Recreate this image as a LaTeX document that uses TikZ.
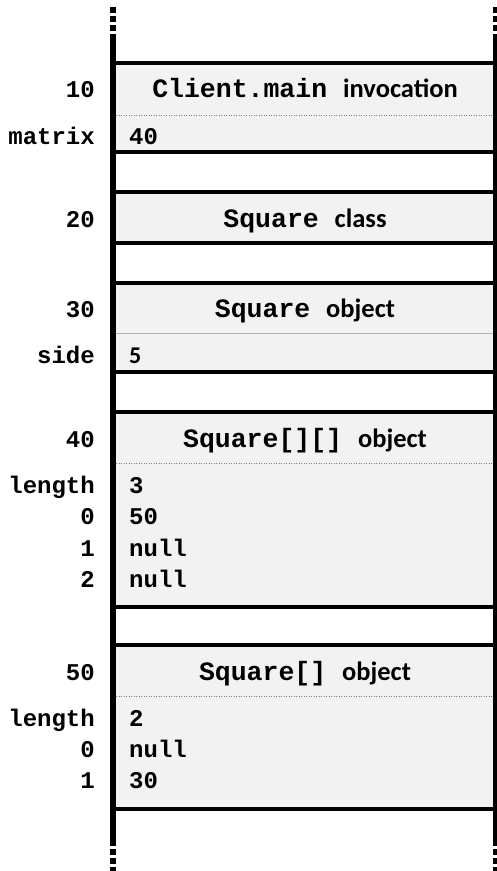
\documentclass[tikz,border=0pt]{standalone}
\usepackage{fontspec}
\setmainfont{Carlito}
\newfontfamily\mono{Liberation Mono}
\definecolor{cellgray}{HTML}{F2F2F2}
\definecolor{sepgray}{HTML}{7F7F7F}

\begin{document}
\begin{tikzpicture}[
  x=1pt, y=-1pt,
  leftwall/.style={line width=6pt},
  rightwall/.style={line width=4pt},
  wallends/.style={dash pattern=on 6pt off 3pt},
  cell/.style={fill=cellgray},
  celledge/.style={line width=4pt},
  dotsep/.style={sepgray, dash pattern=on 1pt off 1.5pt, line width=1pt},
  plainsep/.style={gray!60, line width=0.9pt},
  addr/.style={anchor=base east, inner sep=0pt,
    font=\mono\bfseries\fontsize{24}{28}\selectfont},
  val/.style={anchor=base west, inner sep=0pt,
    font=\mono\bfseries\fontsize{24}{28}\selectfont},
  heading/.style={anchor=base, inner sep=0pt,
    font=\bfseries\fontsize{26.5}{30}\selectfont}
]
  \useasboundingbox (0,0) rectangle (497,871);

  % Memory column: left and right walls
  \coordinate (TL) at (113,34);
  \coordinate (BL) at (113,846);
  \coordinate (TR) at (495,34);
  \coordinate (BR) at (495,846);

  % Cells (top / bottom of each block)
  \foreach \top/\bot in {63/152, 192/243, 283/372, 412/607, 645/809} {
    \fill[cell] (116,\top) rectangle (493,\bot);
    \draw[celledge] (110,\top) -- (497,\top);
    \draw[celledge] (110,\bot) -- (497,\bot);
  }

  % Separators between heading and fields
  \draw[dotsep] (116,115) -- (493,115);
  \draw[plainsep] (116,333) -- (493,333);
  \draw[dotsep] (116,463) -- (493,463);
  \draw[dotsep] (116,696) -- (493,696);

  \draw[leftwall] (TL) -- (BL);
  \draw[rightwall] (TR) -- (BR);
  \draw[leftwall, wallends] (113,7) -- (TL);
  \draw[leftwall, wallends] (113,849) -- (113,871);
  \draw[rightwall, wallends] (495,7) -- (TR);
  \draw[rightwall, wallends] (495,849) -- (495,871);

  % Block headings with their addresses
  \node[addr] (a10) at (95,97) {10};
  \node[heading] (h10) at (305,97) {{\mono Client.main\ }invocation};
  \node[addr] (a20) at (95,227) {20};
  \node[heading] (h20) at (305,227) {{\mono Square\ }class};
  \node[addr] (a30) at (95,317) {30};
  \node[heading] (h30) at (305,317) {{\mono Square\ }object};
  \node[addr] (a40) at (95,447) {40};
  \node[heading] (h40) at (305,447) {{\mono Square[][]\ }object};
  \node[addr] (a50) at (95,680) {50};
  \node[heading] (h50) at (305,680) {{\mono Square[]\ }object};

  % Fields: name on the left, value in the cell
  \foreach \y/\lab/\v/\n in {144/matrix/40/1, 363/side/{\rmfamily 5}/2,
      493/length/3/3, 524/0/50/4, 556/1/null/5, 587/2/null/6,
      726/length/2/7, 757/0/null/8, 788/1/30/9} {
    \node[addr] (f\n) at (95,\y) {\lab};
    \node[val] (v\n) at (129,\y) {\v};
  }
\end{tikzpicture}
\end{document}
